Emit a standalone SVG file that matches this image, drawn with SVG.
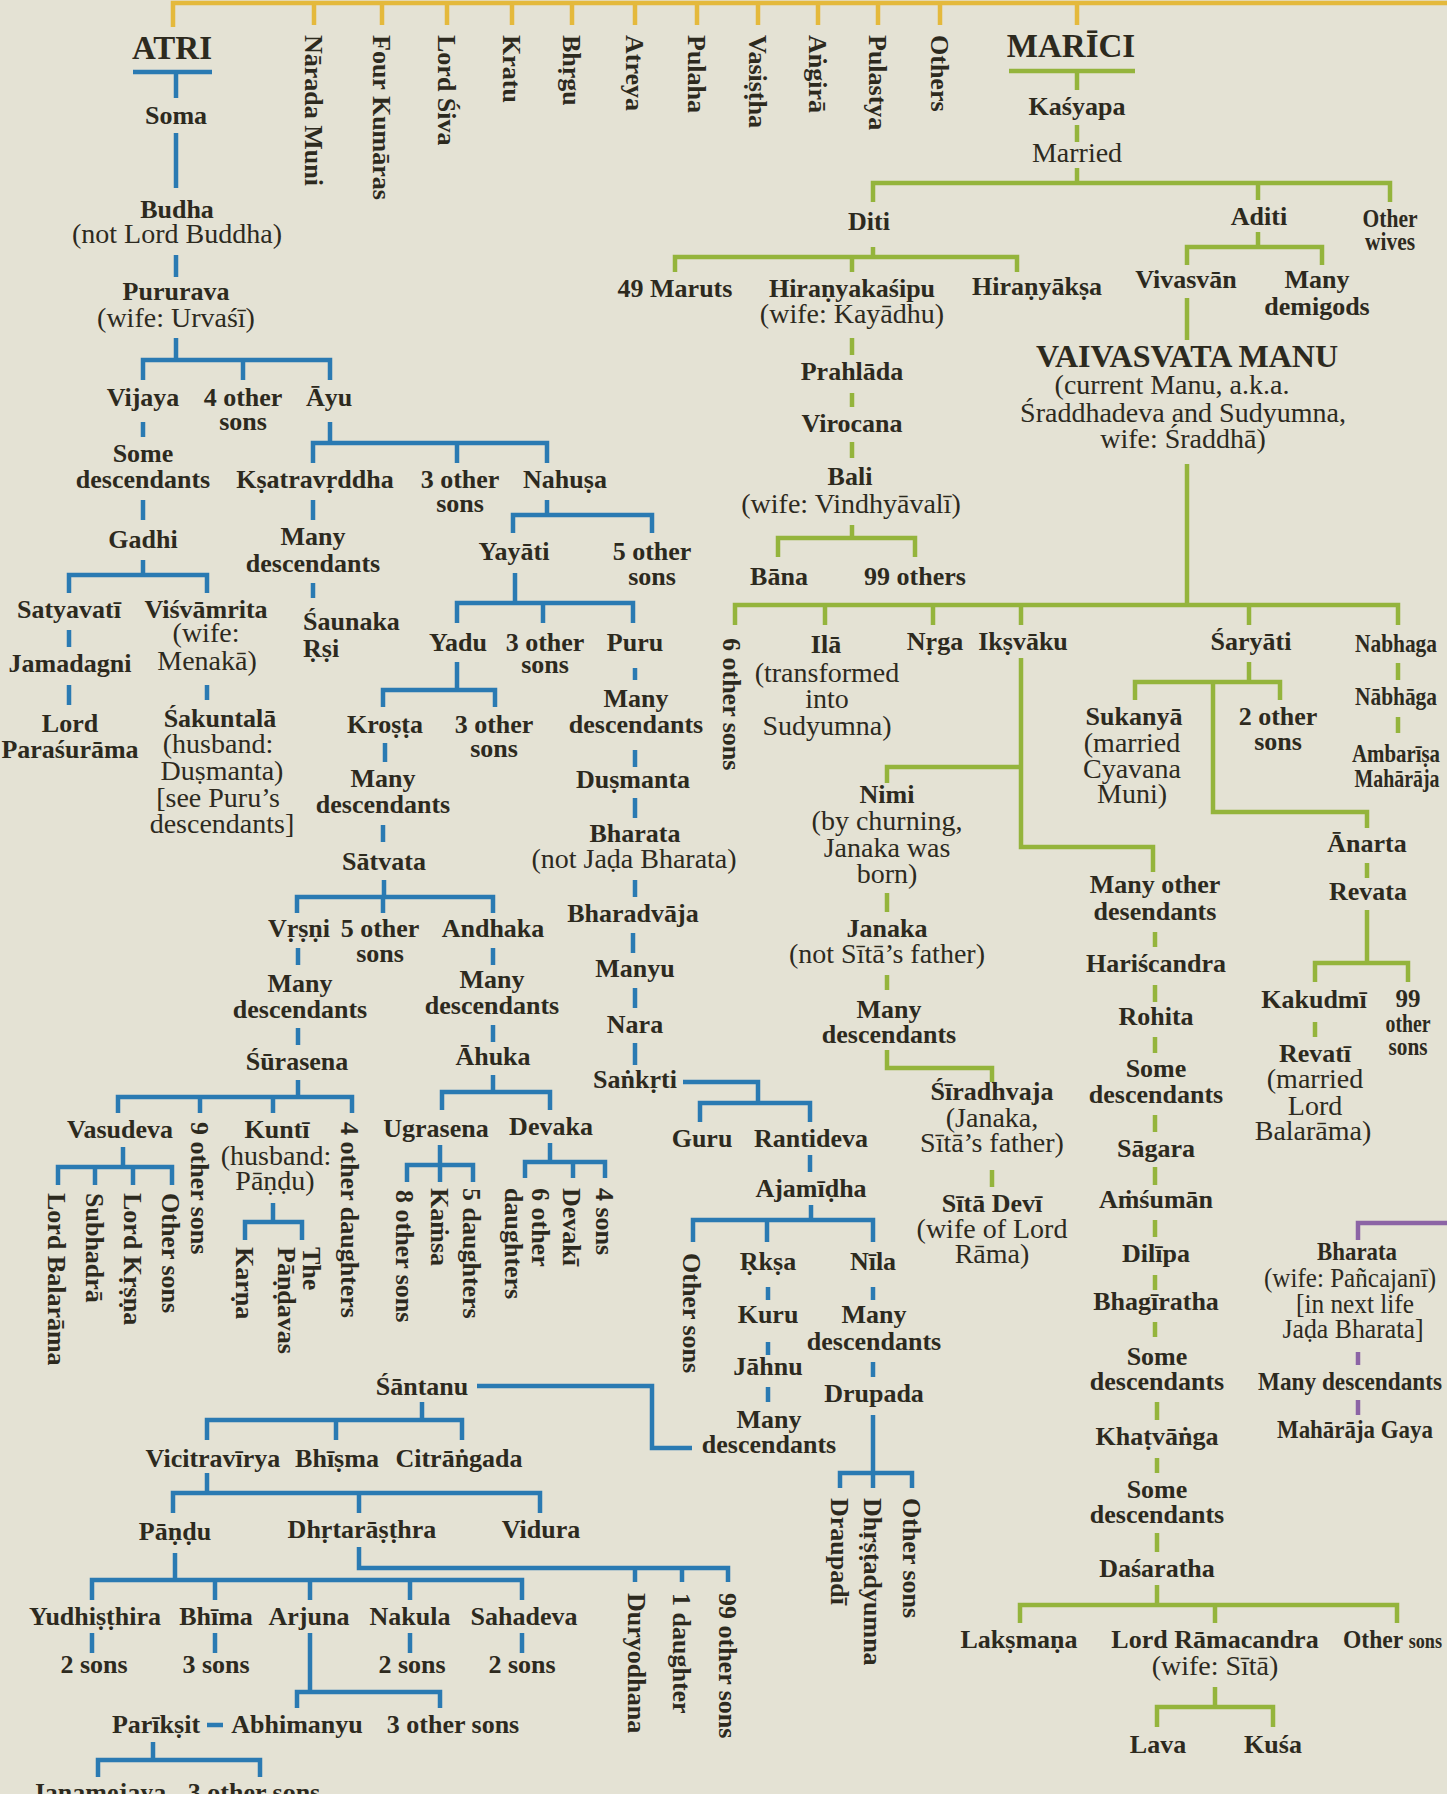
<svg xmlns="http://www.w3.org/2000/svg" width="1447" height="1794" viewBox="0 0 1447 1794">
<style>
text{font-family:"Liberation Serif","Times New Roman",serif;fill:#2d2a1e}
.b{font-weight:bold;font-size:26px;text-anchor:middle}
.r{font-size:28px;text-anchor:middle}
.v{font-weight:bold;font-size:26px;text-anchor:start}
.t{font-weight:bold;font-size:33px;text-anchor:middle}
.c{font-weight:bold;font-size:25px;text-anchor:middle}
.ln{fill:none;stroke-width:4.5}
.bl{stroke:#2a7ab2}
.gr{stroke:#94b43c}
.ye{stroke:#e4b93c}
.pu{stroke:#8c64a5}
</style>
<rect width="1447" height="1794" fill="#e4e2d4"/>
<g id="connectors">
<path class="ln ye" d="M173,27 V3 H1447 M314,3 V25 M382,3 V25 M447,3 V25 M512,3 V25 M572,3 V25 M635,3 V25 M697,3 V25 M758,3 V25 M818,3 V25 M878,3 V25 M940,3 V25 M1077,3 V25"/>
<path class="ln bl" d="M133,72 H212 M176,72 V98 M176,133 V188 M176,255 V277 M176,338 V360 M143,380 V360 H330 V380 M243,360 V380 M143,422 V437 M330,422 V443 M313,463 V443 H547 V463 M457,443 V463 M143,500 V520 M143,560 V575 M69,593 V575 H207 V593 M69,630 V647 M69,685 V705 M207,685 V700 M313,500 V520 M313,583 V598 M547,500 V515 M513,533 V515 H652 V533 M515,573 V603 M457,623 V603 H633 V623 M543,603 V623 M457,662 V690 M383,707 V690 H495 V707 M385,743 V762 M383,825 V842 M384,880 V897 M297,913 V897 H493 V913 M383,897 V913 M298,948 V965 M298,1028 V1045 M298,1080 V1097 M118,1113 V1097 H352 V1113 M200,1097 V1113 M273,1097 V1113 M123,1147 V1167 M58,1185 V1167 H172 V1185 M95,1167 V1185 M133,1167 V1185 M273,1203 V1222 M245,1240 V1222 H302 V1240 M493,948 V965 M493,1025 V1042 M493,1075 V1092 M442,1110 V1092 H550 V1110 M440,1145 V1182 M407,1182 V1165 H473 V1182 M550,1143 V1162 M525,1178 V1162 H605 V1178 M573,1162 V1178 M635,668 V680 M635,750 V767 M635,798 V818 M635,880 V897 M633,933 V953 M635,988 V1008 M635,1043 V1065 M683,1082 H758 V1103 M700,1122 V1103 H810 V1122 M810,1155 V1172 M811,1205 V1220 M693,1242 V1220 H873 V1242 M767,1220 V1242 M768,1287 V1300 M873,1287 V1300 M768,1342 V1355 M768,1387 V1402 M873,1362 V1377 M873,1415 V1488 M840,1488 V1473 H912 V1488 M477,1386 H652 V1448 H692 M422,1402 V1420 M207,1440 V1420 H462 V1440 M336,1420 V1440 M207,1473 V1493 M173,1513 V1493 H540 V1513 M359,1493 V1513 M175,1553 V1580 M92,1600 V1580 H522 V1600 M215,1580 V1600 M310,1580 V1600 M410,1580 V1600 M359,1547 V1568 H728 V1582 M635,1568 V1582 M682,1568 V1582 M92,1633 V1653 M215,1633 V1653 M410,1633 V1653 M522,1633 V1653 M310,1633 V1692 M297,1708 V1692 H440 V1708 M207,1725 H223 M153,1742 V1760 M98,1777 V1760 H260 V1777"/>
<path class="ln gr" d="M1009,71 H1135 M1077,71 V90 M1077,125 V142 M1077,168 V183 M873,202 V183 H1390 V202 M1258,183 V200 M873,247 V257 M675,272 V257 H1017 V272 M852,257 V272 M852,338 V355 M852,393 V407 M852,442 V458 M852,525 V538 M778,557 V538 H915 V557 M1258,232 V247 M1187,265 V247 H1322 V265 M1187,298 V340 M1187,464 V605 M735,625 V605 H1398 V625 M825,605 V625 M933,605 V625 M1021,605 V625 M1249,605 V625 M1021,658 V847 H1153 V872 M887,783 V767 H1021 M887,893 V912 M887,975 V990 M887,1050 V1068 H992 V1082 M992,1170 V1187 M1249,662 V682 M1135,700 V682 H1280 V700 M1213,682 V812 H1367 V828 M1398,663 V680 M1398,717 V733 M1367,863 V878 M1367,910 V963 M1315,982 V963 H1408 V982 M1315,1022 V1037 M1155,932 V947 M1155,985 V1002 M1155,1037 V1053 M1155,1115 V1132 M1155,1167 V1185 M1155,1220 V1237 M1155,1275 V1290 M1155,1322 V1337 M1157,1402 V1420 M1157,1458 V1473 M1157,1533 V1552 M1157,1585 V1605 M1020,1623 V1605 H1397 V1623 M1215,1605 V1623 M1215,1687 V1707 M1157,1727 V1707 H1273 V1727"/>
<path class="ln pu" d="M1447,1223 H1358 V1240 M1358,1352 V1365 M1358,1400 V1415"/>
</g>
<g id="n-atri"><text class="t" x="172" y="59">ATRI</text></g>
<g id="n-narada"><text class="v" transform="translate(305,35) rotate(90)">Nārada Muni</text></g>
<g id="n-kumaras"><text class="v" transform="translate(373,35) rotate(90)">Four Kumāras</text></g>
<g id="n-siva"><text class="v" transform="translate(438,35) rotate(90)">Lord Śiva</text></g>
<g id="n-kratu"><text class="v" transform="translate(503,35) rotate(90)">Kratu</text></g>
<g id="n-bhrgu"><text class="v" transform="translate(563,35) rotate(90)">Bhṛgu</text></g>
<g id="n-atreya"><text class="v" transform="translate(626,35) rotate(90)">Atreya</text></g>
<g id="n-pulaha"><text class="v" transform="translate(688,35) rotate(90)">Pulaha</text></g>
<g id="n-vasistha"><text class="v" transform="translate(749,35) rotate(90)">Vasiṣṭha</text></g>
<g id="n-angira"><text class="v" transform="translate(809,35) rotate(90)">Aṅgirā</text></g>
<g id="n-pulastya"><text class="v" transform="translate(869,35) rotate(90)">Pulastya</text></g>
<g id="n-others"><text class="v" transform="translate(931,35) rotate(90)">Others</text></g>
<g id="n-marici"><text class="t" x="1071" y="57">MARĪCI</text></g>
<g id="n-soma"><text class="b" x="176" y="124">Soma</text></g>
<g id="n-budha"><text class="b" x="177" y="218">Budha</text><text class="r" x="177" y="243">(not Lord Buddha)</text></g>
<g id="n-pururava"><text class="b" x="176" y="300">Pururava</text><text class="r" x="176" y="327">(wife: Urvaśī)</text></g>
<g id="n-vijaya"><text class="b" x="143" y="406">Vijaya</text></g>
<g id="n-4other"><text class="b" x="243" y="406">4 other<tspan x="243" y="430">sons</tspan></text></g>
<g id="n-ayu"><text class="b" x="329" y="406">Āyu</text></g>
<g id="n-somedesc1"><text class="b" x="143" y="462">Some<tspan x="143" y="488">descendants</tspan></text></g>
<g id="n-ksatravrddha"><text class="b" x="315" y="488">Kṣatravṛddha</text></g>
<g id="n-3other1"><text class="b" x="460" y="488">3 other<tspan x="460" y="512">sons</tspan></text></g>
<g id="n-nahusa"><text class="b" x="565" y="488">Nahuṣa</text></g>
<g id="n-gadhi"><text class="b" x="143" y="548">Gadhi</text></g>
<g id="n-manydesc1"><text class="b" x="313" y="545">Many<tspan x="313" y="572">descendants</tspan></text></g>
<g id="n-yayati"><text class="b" x="514" y="560">Yayāti</text></g>
<g id="n-5other"><text class="b" x="652" y="560">5 other<tspan x="652" y="585">sons</tspan></text></g>
<g id="n-satyavati"><text class="b" x="69" y="618">Satyavatī</text></g>
<g id="n-visvamrita"><text class="b" x="206" y="618">Viśvāmrita</text><text class="r" x="206" y="642">(wife:</text><text class="r" x="207" y="670">Menakā)</text></g>
<g id="n-saunaka"><text class="b" x="303" y="630" style="text-anchor:start">Śaunaka<tspan x="303" y="657">Ṛṣi</tspan></text></g>
<g id="n-yadu"><text class="b" x="458" y="651">Yadu</text></g>
<g id="n-3other2"><text class="b" x="545" y="651">3 other<tspan x="545" y="673">sons</tspan></text></g>
<g id="n-puru"><text class="b" x="635" y="651">Puru</text></g>
<g id="n-jamadagni"><text class="b" x="70" y="672">Jamadagni</text></g>
<g id="n-parasurama"><text class="b" x="70" y="732">Lord<tspan x="70" y="758">Paraśurāma</tspan></text></g>
<g id="n-sakuntala"><text class="b" x="220" y="727">Śakuntalā</text><text class="r" x="218" y="753">(husband:</text><text class="r" x="222" y="780">Duṣmanta)</text><text class="r" x="218" y="807">[see Puru’s</text><text class="r" x="222" y="833">descendants]</text></g>
<g id="n-manydesc2"><text class="b" x="636" y="707">Many<tspan x="636" y="733">descendants</tspan></text></g>
<g id="n-krosta"><text class="b" x="385" y="733">Kroṣṭa</text></g>
<g id="n-3other3"><text class="b" x="494" y="733">3 other<tspan x="494" y="757">sons</tspan></text></g>
<g id="n-dusmanta"><text class="b" x="633" y="788">Duṣmanta</text></g>
<g id="n-manydesc3"><text class="b" x="383" y="787">Many<tspan x="383" y="813">descendants</tspan></text></g>
<g id="n-bharata1"><text class="b" x="635" y="842">Bharata</text><text class="r" x="634" y="868">(not Jaḍa Bharata)</text></g>
<g id="n-satvata"><text class="b" x="384" y="870">Sātvata</text></g>
<g id="n-bharadvaja"><text class="b" x="633" y="922">Bharadvāja</text></g>
<g id="n-vrsni"><text class="b" x="299" y="937">Vṛṣṇi</text></g>
<g id="n-5other2"><text class="b" x="380" y="937">5 other<tspan x="380" y="962">sons</tspan></text></g>
<g id="n-andhaka"><text class="b" x="493" y="937">Andhaka</text></g>
<g id="n-manyu"><text class="b" x="635" y="977">Manyu</text></g>
<g id="n-manydesc4"><text class="b" x="300" y="992">Many<tspan x="300" y="1018">descendants</tspan></text></g>
<g id="n-manydesc5"><text class="b" x="492" y="988">Many<tspan x="492" y="1014">descendants</tspan></text></g>
<g id="n-nara"><text class="b" x="635" y="1033">Nara</text></g>
<g id="n-ahuka"><text class="b" x="493" y="1065">Āhuka</text></g>
<g id="n-surasena"><text class="b" x="297" y="1070">Śūrasena</text></g>
<g id="n-sankrti"><text class="b" x="635" y="1088">Saṅkṛti</text></g>
<g id="n-vasudeva"><text class="b" x="120" y="1138">Vasudeva</text></g>
<g id="n-9other"><text class="v" transform="translate(191,1122) rotate(90)">9 other sons</text></g>
<g id="n-kunti"><text class="b" x="277" y="1138">Kuntī</text><text class="r" x="276" y="1165">(husband:</text><text class="r" x="275" y="1190">Pāṇḍu)</text></g>
<g id="n-4daughters"><text class="v" transform="translate(341,1122) rotate(90)">4 other daughters</text></g>
<g id="n-ugrasena"><text class="b" x="436" y="1137">Ugrasena</text></g>
<g id="n-devaka"><text class="b" x="551" y="1135">Devaka</text></g>
<g id="n-balarama"><text class="v" transform="translate(48,1193) rotate(90)">Lord Balarāma</text></g>
<g id="n-subhadra"><text class="v" transform="translate(86,1193) rotate(90)">Subhadrā</text></g>
<g id="n-krsna"><text class="v" transform="translate(124,1193) rotate(90)">Lord Kṛṣṇa</text></g>
<g id="n-othersons1"><text class="v" transform="translate(162,1193) rotate(90)">Other sons</text></g>
<g id="n-karna"><text class="v" transform="translate(236,1247) rotate(90)">Karṇa</text></g>
<g id="n-pandavas"><text class="v" transform="translate(303,1247) rotate(90)">The<tspan x="0" y="25">Pāṇḍavas</tspan></text></g>
<g id="n-8other"><text class="v" transform="translate(396,1190) rotate(90)">8 other sons</text></g>
<g id="n-kamsa"><text class="v" transform="translate(431,1188) rotate(90)">Kaṁsa</text></g>
<g id="n-5daughters"><text class="v" transform="translate(463,1188) rotate(90)">5 daughters</text></g>
<g id="n-6daughters"><text class="v" transform="translate(532,1188) rotate(90)">6 other<tspan x="0" y="27">daughters</tspan></text></g>
<g id="n-devaki"><text class="v" transform="translate(563,1188) rotate(90)">Devakī</text></g>
<g id="n-4sons"><text class="v" transform="translate(596,1188) rotate(90)">4 sons</text></g>
<g id="n-guru"><text class="b" x="702" y="1147">Guru</text></g>
<g id="n-rantideva"><text class="b" x="811" y="1147">Rantideva</text></g>
<g id="n-ajamidha"><text class="b" x="811" y="1197">Ajamīḍha</text></g>
<g id="n-othersons2"><text class="v" transform="translate(683,1253) rotate(90)">Other sons</text></g>
<g id="n-rksa"><text class="b" x="768" y="1270">Ṛkṣa</text></g>
<g id="n-nila"><text class="b" x="873" y="1270">Nīla</text></g>
<g id="n-kuru"><text class="b" x="768" y="1323">Kuru</text></g>
<g id="n-manydesc6"><text class="b" x="874" y="1323">Many<tspan x="874" y="1350">descendants</tspan></text></g>
<g id="n-jahnu"><text class="b" x="768" y="1375">Jāhnu</text></g>
<g id="n-santanu"><text class="b" x="422" y="1395">Śāntanu</text></g>
<g id="n-drupada"><text class="b" x="874" y="1402">Drupada</text></g>
<g id="n-manydesc7"><text class="b" x="769" y="1428">Many<tspan x="769" y="1453">descendants</tspan></text></g>
<g id="n-draupadi"><text class="v" transform="translate(831,1498) rotate(90)">Draupadī</text></g>
<g id="n-dhrstadyumna"><text class="v" transform="translate(864,1498) rotate(90)">Dhṛṣṭadyumna</text></g>
<g id="n-othersons3"><text class="v" transform="translate(903,1498) rotate(90)">Other sons</text></g>
<g id="n-vicitravirya"><text class="b" x="213" y="1467">Vicitravīrya</text></g>
<g id="n-bhisma"><text class="b" x="337" y="1467">Bhīṣma</text></g>
<g id="n-citrangada"><text class="b" x="459" y="1467">Citrāṅgada</text></g>
<g id="n-pandu"><text class="b" x="175" y="1540">Pāṇḍu</text></g>
<g id="n-dhrtarastra"><text class="b" x="362" y="1538">Dhṛtarāṣṭhra</text></g>
<g id="n-vidura"><text class="b" x="541" y="1538">Vidura</text></g>
<g id="n-duryodhana"><text class="v" transform="translate(628,1593) rotate(90)">Duryodhana</text></g>
<g id="n-1daughter"><text class="v" transform="translate(673,1593) rotate(90)">1 daughter</text></g>
<g id="n-99other"><text class="v" transform="translate(719,1593) rotate(90)">99 other sons</text></g>
<g id="n-yudhisthira"><text class="b" x="95" y="1625">Yudhiṣṭhira</text></g>
<g id="n-bhima"><text class="b" x="216" y="1625">Bhīma</text></g>
<g id="n-arjuna"><text class="b" x="309" y="1625">Arjuna</text></g>
<g id="n-nakula"><text class="b" x="410" y="1625">Nakula</text></g>
<g id="n-sahadeva"><text class="b" x="524" y="1625">Sahadeva</text></g>
<g id="n-2sons1"><text class="b" x="94" y="1673">2 sons</text></g>
<g id="n-3sons"><text class="b" x="216" y="1673">3 sons</text></g>
<g id="n-2sons2"><text class="b" x="412" y="1673">2 sons</text></g>
<g id="n-2sons3"><text class="b" x="522" y="1673">2 sons</text></g>
<g id="n-pariksit"><text class="b" x="156" y="1733">Parīkṣit</text></g>
<g id="n-abhimanyu"><text class="b" x="297" y="1733">Abhimanyu</text></g>
<g id="n-3other4"><text class="b" x="453" y="1733">3 other sons</text></g>
<g id="n-janamejaya"><text class="b" x="99" y="1801">Janamejaya</text></g>
<g id="n-3other5"><text class="b" x="254" y="1801">3 other sons</text></g>
<g id="n-kasyapa"><text class="b" x="1077" y="115">Kaśyapa</text></g>
<g id="n-married"><text class="r" x="1077" y="162">Married</text></g>
<g id="n-diti"><text class="b" x="869" y="230">Diti</text></g>
<g id="n-aditi"><text class="b" x="1259" y="225">Aditi</text></g>
<g id="n-otherwives"><text class="c" x="1390" y="227" textLength="55" lengthAdjust="spacingAndGlyphs">Other</text><text class="c" x="1390" y="250" textLength="50" lengthAdjust="spacingAndGlyphs">wives</text></g>
<g id="n-maruts"><text class="b" x="675" y="297">49 Maruts</text></g>
<g id="n-hiranyakasipu"><text class="b" x="852" y="297">Hiraṇyakaśipu</text><text class="r" x="852" y="323">(wife: Kayādhu)</text></g>
<g id="n-hiranyaksa"><text class="b" x="1037" y="295">Hiraṇyākṣa</text></g>
<g id="n-vivasvan"><text class="b" x="1186" y="288">Vivasvān</text></g>
<g id="n-demigods"><text class="b" x="1317" y="288">Many<tspan x="1317" y="315">demigods</tspan></text></g>
<g id="n-prahlada"><text class="b" x="852" y="380">Prahlāda</text></g>
<g id="n-manu"><text class="b" x="1187" y="367" style="font-size:32px">VAIVASVATA MANU</text><text class="r" x="1172" y="394">(current Manu, a.k.a.</text><text class="r" x="1183" y="422">Śraddhadeva and Sudyumna,</text><text class="r" x="1183" y="448">wife: Śraddhā)</text></g>
<g id="n-virocana"><text class="b" x="852" y="432">Virocana</text></g>
<g id="n-bali"><text class="b" x="850" y="485">Bali</text><text class="r" x="851" y="513">(wife: Vindhyāvalī)</text></g>
<g id="n-bana"><text class="b" x="779" y="585">Bāna</text></g>
<g id="n-99others"><text class="b" x="915" y="585">99 others</text></g>
<g id="n-6other"><text class="v" transform="translate(723,638) rotate(90)">6 other sons</text></g>
<g id="n-ila"><text class="b" x="826" y="653">Ilā</text><text class="r" x="827" y="682">(transformed</text><text class="r" x="827" y="708">into</text><text class="r" x="827" y="735">Sudyumna)</text></g>
<g id="n-nrga"><text class="b" x="935" y="650">Nṛga</text></g>
<g id="n-iksvaku"><text class="b" x="1023" y="650">Ikṣvāku</text></g>
<g id="n-saryati"><text class="b" x="1251" y="650">Śaryāti</text></g>
<g id="n-nabhaga"><text class="c" x="1396" y="652" textLength="82" lengthAdjust="spacingAndGlyphs">Nabhaga</text></g>
<g id="n-nabhaga2"><text class="c" x="1396" y="705" textLength="82" lengthAdjust="spacingAndGlyphs">Nābhāga</text></g>
<g id="n-ambarisa"><text class="c" x="1396" y="762" textLength="88" lengthAdjust="spacingAndGlyphs">Ambarīṣa</text><text class="c" x="1397" y="787" textLength="85" lengthAdjust="spacingAndGlyphs">Mahārāja</text></g>
<g id="n-sukanya"><text class="b" x="1134" y="725">Sukanyā</text><text class="r" x="1132" y="752">(married</text><text class="r" x="1132" y="778">Cyavana</text><text class="r" x="1132" y="803">Muni)</text></g>
<g id="n-2other"><text class="b" x="1278" y="725">2 other<tspan x="1278" y="750">sons</tspan></text></g>
<g id="n-nimi"><text class="b" x="887" y="803">Nimi</text><text class="r" x="887" y="830">(by churning,</text><text class="r" x="887" y="857">Janaka was</text><text class="r" x="887" y="883">born)</text></g>
<g id="n-anarta"><text class="b" x="1367" y="852">Ānarta</text></g>
<g id="n-manyother"><text class="b" x="1155" y="893">Many other<tspan x="1155" y="920">desendants</tspan></text></g>
<g id="n-revata"><text class="b" x="1368" y="900">Revata</text></g>
<g id="n-janaka"><text class="b" x="887" y="937">Janaka</text><text class="r" x="887" y="963">(not Sītā’s father)</text></g>
<g id="n-hariscandra"><text class="b" x="1156" y="972">Hariścandra</text></g>
<g id="n-kakudmi"><text class="b" x="1314" y="1008">Kakudmī</text></g>
<g id="n-99othersons"><text class="c" x="1408" y="1007">99</text><text class="c" x="1408" y="1032" textLength="45" lengthAdjust="spacingAndGlyphs">other</text><text class="c" x="1408" y="1055" textLength="39" lengthAdjust="spacingAndGlyphs">sons</text></g>
<g id="n-manydesc8"><text class="b" x="889" y="1018">Many<tspan x="889" y="1043">descendants</tspan></text></g>
<g id="n-rohita"><text class="b" x="1156" y="1025">Rohita</text></g>
<g id="n-revati"><text class="b" x="1315" y="1062">Revatī</text><text class="r" x="1315" y="1088">(married</text><text class="r" x="1315" y="1115">Lord</text><text class="r" x="1313" y="1140">Balarāma)</text></g>
<g id="n-somedesc2"><text class="b" x="1156" y="1077">Some<tspan x="1156" y="1103">descendants</tspan></text></g>
<g id="n-siradhvaja"><text class="b" x="992" y="1100">Śīradhvaja</text><text class="r" x="992" y="1127">(Janaka,</text><text class="r" x="992" y="1152">Sītā’s father)</text></g>
<g id="n-sagara"><text class="b" x="1156" y="1157">Sāgara</text></g>
<g id="n-amsuman"><text class="b" x="1156" y="1208">Aṁśumān</text></g>
<g id="n-sitadevi"><text class="b" x="992" y="1212">Sītā Devī</text><text class="r" x="992" y="1238">(wife of Lord</text><text class="r" x="992" y="1263">Rāma)</text></g>
<g id="n-bharata2"><text class="b" x="1357" y="1260" textLength="80" lengthAdjust="spacingAndGlyphs">Bharata</text><text class="r" x="1350" y="1287" textLength="172" lengthAdjust="spacingAndGlyphs">(wife: Pañcajanī)</text><text class="r" x="1355" y="1313" textLength="118" lengthAdjust="spacingAndGlyphs">[in next life</text><text class="r" x="1353" y="1338" textLength="141" lengthAdjust="spacingAndGlyphs">Jaḍa Bharata]</text></g>
<g id="n-dilipa"><text class="b" x="1156" y="1262">Dilīpa</text></g>
<g id="n-bhagiratha"><text class="b" x="1156" y="1310">Bhagīratha</text></g>
<g id="n-somedesc3"><text class="b" x="1157" y="1365">Some<tspan x="1157" y="1390">descendants</tspan></text></g>
<g id="n-manydesc9"><text class="b" x="1350" y="1390" textLength="184" lengthAdjust="spacingAndGlyphs">Many descendants</text></g>
<g id="n-khatvanga"><text class="b" x="1157" y="1445">Khaṭvāṅga</text></g>
<g id="n-gaya"><text class="b" x="1355" y="1438" textLength="156" lengthAdjust="spacingAndGlyphs">Mahārāja Gaya</text></g>
<g id="n-somedesc4"><text class="b" x="1157" y="1498">Some<tspan x="1157" y="1523">descendants</tspan></text></g>
<g id="n-dasaratha"><text class="b" x="1157" y="1577">Daśaratha</text></g>
<g id="n-laksmana"><text class="b" x="1019" y="1648">Lakṣmaṇa</text></g>
<g id="n-rama"><text class="b" x="1215" y="1648">Lord Rāmacandra</text><text class="r" x="1215" y="1675">(wife: Sītā)</text></g>
<g id="n-othersons4"><text class="b" x="1343" y="1648" style="text-anchor:start" textLength="99" lengthAdjust="spacingAndGlyphs">Other <tspan style="font-size:20px">sons</tspan></text></g>
<g id="n-lava"><text class="b" x="1158" y="1753">Lava</text></g>
<g id="n-kusa"><text class="b" x="1273" y="1753">Kuśa</text></g>
</svg>
